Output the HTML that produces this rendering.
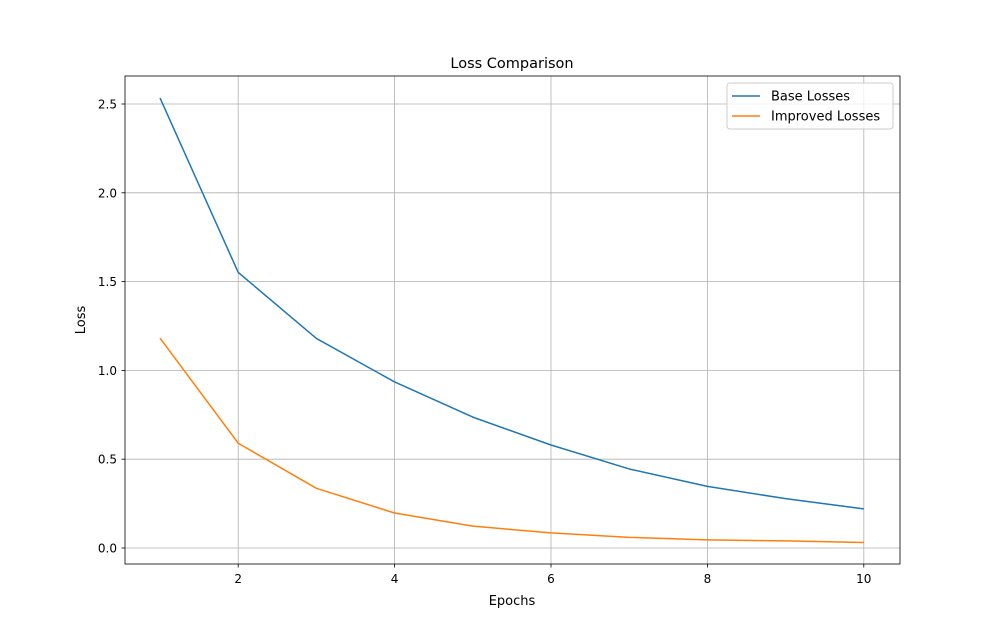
<!DOCTYPE html>
<html><head><meta charset="utf-8"><style>
html,body{margin:0;padding:0;background:#fff;}
svg text{font-family:"DejaVu Sans","Liberation Sans",sans-serif;fill:#000;}
</style></head><body>
<svg id="chart" width="1000" height="634" viewBox="0 0 1000 634" xmlns="http://www.w3.org/2000/svg">
<rect width="1000" height="634" fill="#fff"/>
<g id="grid"></g>
<g id="lines"></g>
<rect x="125" y="76" width="775" height="488" fill="none" stroke="#000" stroke-width="0.8"/>
<g id="ticks"></g>
<text x="512" y="68" font-size="14.5" text-anchor="middle">Loss Comparison</text>
<text x="512" y="605" font-size="13" text-anchor="middle">Epochs</text>
<text x="85" y="320" font-size="13" text-anchor="middle" transform="rotate(-90 85 320)">Loss</text>
<g>
<rect x="727" y="83" width="166" height="46" rx="3" fill="#fff" fill-opacity="0.8" stroke="#ccc"/>
<g>
<line x1="732" y1="96" x2="760" y2="96" stroke="#1f77b4" stroke-width="1.5"/>
<text x="771" y="100.5" font-size="13">Base Losses</text></g>
<g>
<line x1="732" y1="116" x2="760" y2="116" stroke="#ff7f0e" stroke-width="1.5"/>
<text x="771" y="120.5" font-size="13">Improved Losses</text></g>
</g>
</svg>
<script>
const epochs=[1,2,3,4,5,6,7,8,9,10];
const baseLosses=[2.534,1.552,1.18,0.935,0.737,0.58,0.445,0.347,0.278,0.22];
const improvedLosses=[1.182,0.59,0.336,0.197,0.123,0.085,0.06,0.046,0.04,0.031];
const xTicks=[2,4,6,8,10];
const yTicks=[0.0,0.5,1.0,1.5,2.0,2.5];
const NS="http://www.w3.org/2000/svg";
function xs(v){return 160+(v-1)*78.2;}
function ys(v){return 548-v*177.6;}
const grid=document.getElementById('grid'),ticks=document.getElementById('ticks'),lines=document.getElementById('lines');
function mk(tag,attrs,parent){const e=document.createElementNS(NS,tag);for(const k in attrs)e.setAttribute(k,attrs[k]);parent.appendChild(e);return e;}
xTicks.forEach(t=>{const x=xs(t);
const g=mk('line',{x1:x,x2:x,y1:76,y2:564,stroke:'#b0b0b0','stroke-width':0.8},grid);


mk('line',{x1:x,x2:x,y1:564,y2:567.5,stroke:'#000','stroke-width':0.8},ticks);
const tx=mk('text',{x:x,y:583,'font-size':12,'text-anchor':'middle'},ticks);tx.textContent=t;

});
yTicks.forEach(t=>{const y=ys(t);
const g=mk('line',{x1:125,x2:900,y1:y,y2:y,stroke:'#b0b0b0','stroke-width':0.8},grid);


mk('line',{x1:121.5,x2:125,y1:y,y2:y,stroke:'#000','stroke-width':0.8},ticks);
const tx=mk('text',{x:117,y:y+4.5,'font-size':12,'text-anchor':'end'},ticks);tx.textContent=t.toFixed(1);

});
function series(vals,color,name){
const p=mk('polyline',{points:vals.map((v,i)=>xs(epochs[i])+','+ys(v)).join(' '),fill:'none',stroke:color,'stroke-width':1.5,'stroke-linejoin':'round'},lines);

}
series(baseLosses,'#1f77b4','base-losses-line');
series(improvedLosses,'#ff7f0e','improved-losses-line');
</script>
</body></html>
